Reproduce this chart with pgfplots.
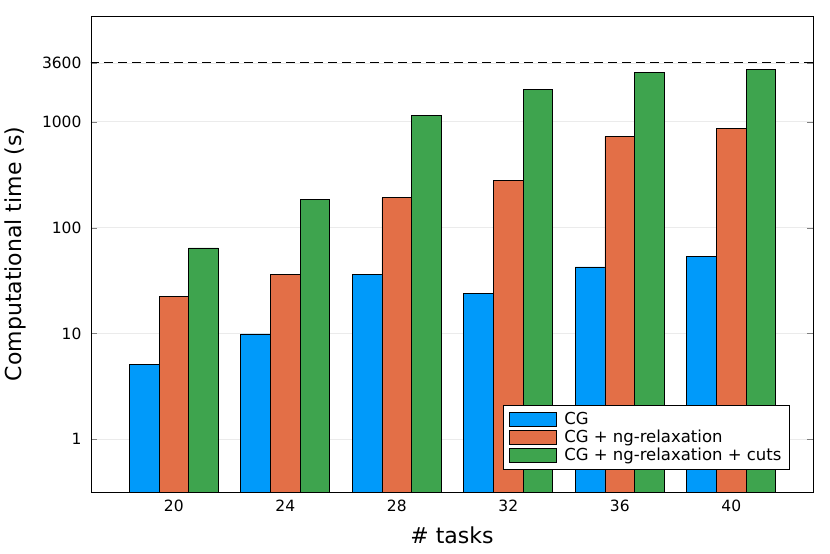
\documentclass[border=0pt]{standalone}
\usepackage{pgfplots}
\pgfplotsset{compat=1.18}
\usepackage{fontspec}
\setmainfont{DejaVu Sans}

\definecolor{cgblue}{RGB}{0,154,250}
\definecolor{ngorange}{RGB}{227,111,71}
\definecolor{cutgreen}{RGB}{62,164,78}

\begin{document}
\begin{tikzpicture}
	\begin{axis}[
			scale only axis,
			width=722pt,
			height=476pt,
			ymode=log,
			log origin=infty,
			ybar=0pt,
			bar width=0.266,
			xmin=-0.743, xmax=5.733,
			ymin=0.318, ymax=10000,
			xtick={0,1,2,3,4,5},
			xticklabels={20,24,28,32,36,40},
			ytick={1,10,100,1000,3600},
			yticklabels={1,10,100,1000,3600},
			/pgf/number format/assume math mode=true,
			tick label style={font=\fontsize{15.5}{18}\selectfont},
			yticklabel style={xshift=-6pt},
			xticklabel style={yshift=-4pt},
			tick align=inside,
			major tick length=6pt,
			xtick style={draw=none},
			ymajorgrids,
			grid style={color=black!8, line width=0.8pt},
			axis line style={line width=0.9pt},
			xlabel={\# tasks},
			ylabel={Computational time (s)},
			label style={font=\fontsize{22}{26}\selectfont},
			xlabel style={at={(axis description cs:0.5,-0.091)}, anchor=center},
			ylabel style={at={(axis description cs:-0.105,0.5)}, anchor=center, rotate=0},
			legend cell align=left,
			legend style={
					at={(0.968,0.183)}, anchor=north east,
					font=\fontsize{16.5}{18}\selectfont,
					draw=black, line width=0.9pt,
					row sep=0pt,
					inner xsep=6pt, inner ysep=5pt,
				},
			legend image code/.code={\draw[#1, line width=0.9pt] (0pt,-7pt) rectangle (47pt,7pt); \path (52pt,0pt);},
		]
		\addplot [fill=cgblue, draw=black, line width=0.9pt] coordinates {(0,5.15) (1,9.9) (2,36.0) (3,24.1) (4,42.5) (5,53.2)};
		\addplot [fill=ngorange, draw=black, line width=0.9pt] coordinates {(0,22.5) (1,36.0) (2,191) (3,282) (4,724) (5,857)};
		\addplot [fill=cutgreen, draw=black, line width=0.9pt] coordinates {(0,64.3) (1,183) (2,1145) (3,2005) (4,2898) (5,3141)};
		\legend{CG, CG + ng-relaxation, CG + ng-relaxation + cuts}
		\addplot [sharp plot, forget plot, black, line width=1pt, dash pattern=on 9pt off 5pt] coordinates {(-1,3600) (6,3600)};
	\end{axis}
	\path[use as bounding box] (-91pt,-62pt) rectangle (739pt,492pt);
\end{tikzpicture}
\end{document}
